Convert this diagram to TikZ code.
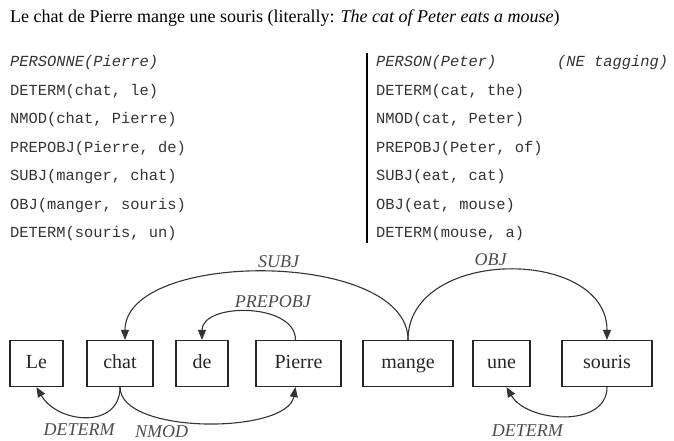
\documentclass[tikz,border=0pt]{standalone}
\usepackage{fontspec}
\setmainfont{Liberation Serif}
\setmonofont{Liberation Mono}
\usepackage{xcolor}
\usetikzlibrary{arrows.meta}

\tikzset{
  word/.style={shape=rectangle,draw=black!85,line width=1.2pt,inner sep=0pt,
    text height=13pt,text depth=4pt,
    minimum height=46pt,font=\fontsize{20}{24}\selectfont,text=black!85},
  dep/.style={-{Triangle[length=10pt,width=8pt]},line width=1.1pt,color=black!80,looseness=#1},
  rel/.style={font=\fontsize{18}{21}\selectfont\itshape,text=black!70},
  fact/.style={anchor=west,inner sep=0pt,font=\fontsize{15.4}{18}\selectfont\ttfamily,text=black!80},
}

\begin{document}
\begin{tikzpicture}[x=1pt,y=1pt]
  \useasboundingbox (0,0) rectangle (674,440);

  % sentence
  \node[anchor=base west,inner sep=0pt,font=\fontsize{18}{21}\selectfont] (title) at (10,417)
    {Le chat de Pierre mange une souris (literally: \textit{The cat of Peter eats a mouse})};

  % french relations
  \node[fact] (fr1) at (10,377) {\textit{PERSONNE(Pierre)}};
  \node[fact] (fr2) at (10,348.5) {DETERM(chat, le)};
  \node[fact] (fr3) at (10,320) {NMOD(chat, Pierre)};
  \node[fact] (fr4) at (10,291.5) {PREPOBJ(Pierre, de)};
  \node[fact] (fr5) at (10,263) {SUBJ(manger, chat)};
  \node[fact] (fr6) at (10,234.5) {OBJ(manger, souris)};
  \node[fact] (fr7) at (10,206) {DETERM(souris, un)};

  % english relations
  \node[fact] (en1) at (376,377) {\textit{PERSON(Peter)}};
  \node[fact] (ne) at (557,377) {\textit{(NE tagging)}};
  \node[fact] (en2) at (376,348.5) {DETERM(cat, the)};
  \node[fact] (en3) at (376,320) {NMOD(cat, Peter)};
  \node[fact] (en4) at (376,291.5) {PREPOBJ(Peter, of)};
  \node[fact] (en5) at (376,263) {SUBJ(eat, cat)};
  \node[fact] (en6) at (376,234.5) {OBJ(eat, mouse)};
  \node[fact] (en7) at (376,206) {DETERM(mouse, a)};

  % separator
  \coordinate (bartop) at (367,387);
  \coordinate (barbot) at (367,197);
  \draw[line width=1.3pt] (bartop) -- (barbot);

  % words
  \node[word,minimum width=53pt] (Le) at (36.5,76.5) {Le};
  \node[word,minimum width=66pt] (chat) at (120,76.5) {chat};
  \node[word,minimum width=52pt] (de) at (202,76.5) {de};
  \node[word,minimum width=85pt] (Pierre) at (298.5,76.5) {Pierre};
  \node[word,minimum width=90pt] (mange) at (408,76.5) {mange};
  \node[word,minimum width=57pt] (une) at (501.5,76.5) {une};
  \node[word,minimum width=90pt] (souris) at (607,76.5) {souris};

  % dependencies
  \path[dep=0.82] (mange.north) edge[out=90,in=90] node[rel,above,xshift=12pt] {SUBJ} ([xshift=5pt]chat.north);
  \path[dep=1.2] (mange.north) edge[out=90,in=90] node[rel,above,xshift=-17pt] {OBJ} (souris.north);
  \path[dep=1.03] ([xshift=-3pt]Pierre.north) edge[out=90,in=90] node[rel,above,xshift=24pt] {PREPOBJ} (de.north);
  \path[dep=1.3] (chat.south) edge[out=-90,in=-60] node[rel,below,xshift=-7pt,yshift=-3pt] {DETERM} (Le.south);
  \path[dep=0.7] (chat.south) edge[out=-90,in=-100] node[rel,below,xshift=-43pt,yshift=1pt] {NMOD} ([xshift=-3pt]Pierre.south);
  \path[dep=1.05] (souris.south) edge[out=-90,in=-60] node[rel,below,xshift=-37pt,yshift=-5pt] {DETERM} ([xshift=5pt]une.south);
\end{tikzpicture}
\end{document}
